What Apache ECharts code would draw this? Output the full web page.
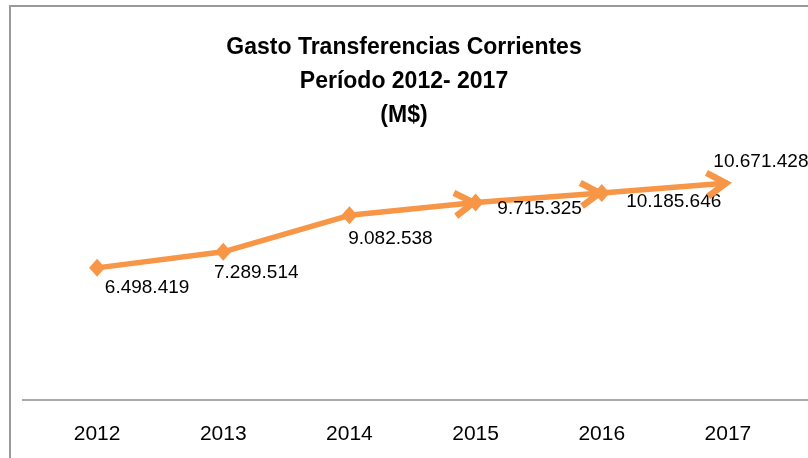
<!DOCTYPE html>
<html>
<head>
<meta charset="utf-8">
<script src="https://cdn.jsdelivr.net/npm/echarts@6/dist/echarts.min.js"></script>
<style>
html,body{margin:0;padding:0;background:#fff;}
#chart{width:808px;height:458px;}
</style>
</head>
<body>
<div id="chart"></div>
<script>
var categories = ['2012', '2013', '2014', '2015', '2016', '2017'];
var values = [6498419, 7289514, 9082538, 9715325, 10185646, 10671428];
var titleText = 'Gasto Transferencias Corrientes\nPeríodo 2012- 2017\n(M$)';

var labelOffsets = [[50, 20], [33, 21], [41, 23], [64, 6], [72, 9], [33, -21]];
var arrowFrom = 2; // segments ending at these category indices have arrowheads
var ORANGE = '#F79646';

function fmt(v) {
  return String(v).replace(/\B(?=(\d{3})+(?!\d))/g, '.');
}

var lastIndex = values.length - 1;
var lineData = values.map(function (v, i) {
  return {
    value: v,
    symbol: 'diamond',
    label: { offset: labelOffsets[i] }
  };
});

var arrowData = [];
for (var i = arrowFrom + 1; i < values.length; i++) {
  arrowData.push([i, values[i], values[i - 1]]);
}

var chart = echarts.init(document.getElementById('chart'), null, { renderer: 'canvas' });
chart.setOption({
  animation: false,
  backgroundColor: '#fff',
  title: {
    text: titleText,
    left: 'center',
    top: 26,
    textStyle: {
      fontFamily: 'Liberation Sans',
      fontWeight: 'bold',
      fontSize: 23,
      lineHeight: 34,
      color: '#000'
    }
  },
  graphic: [
    {
      type: 'polyline',
      shape: { points: [[10, 470], [10, 6], [820, 6]] },
      style: { stroke: '#9a9a9a', lineWidth: 2, fill: null },
      z: 100
    },
    {
      type: 'line',
      shape: { x1: 22, y1: 400, x2: 808, y2: 400 },
      style: { stroke: '#8c8c8c', lineWidth: 1.5 },
      z: 1
    }
  ],
  grid: { left: 34, right: 17, top: 156, bottom: 58, containLabel: false },
  xAxis: {
    type: 'category',
    data: categories,
    boundaryGap: true,
    axisLine: { show: false },
    axisTick: { show: false },
    axisLabel: {
      margin: 24,
      fontFamily: 'Liberation Sans',
      fontSize: 21,
      color: '#000'
    }
  },
  yAxis: {
    type: 'value',
    min: 0,
    max: 12000000,
    show: false,
    splitLine: { show: false }
  },
  series: [
    {
      type: 'line',
      data: lineData,
      symbolSize: function (val, params) {
        return params.dataIndex === lastIndex ? 1 : [16, 18];
      },
      itemStyle: { color: ORANGE },
      lineStyle: { color: ORANGE, width: 5.5 },
      z: 3,
      label: {
        show: true,
        position: 'inside',
        formatter: function (p) { return fmt(p.value); },
        fontFamily: 'Liberation Sans',
        fontSize: 19,
        color: '#000'
      }
    },
    {
      type: 'custom',
      data: arrowData,
      z: 4,
      renderItem: function (params, api) {
        var idx = api.value(0);
        var p1 = api.coord([idx, api.value(1)]);
        var p0 = api.coord([idx - 1, api.value(2)]);
        var ang = Math.atan2(p1[1] - p0[1], p1[0] - p0[0]);
        var L = 22, a = 0.56;
        var tip = [p1[0] - 2 * Math.cos(ang), p1[1] - 2 * Math.sin(ang)];
        var pts = [
          [tip[0] - L * Math.cos(ang - a), tip[1] - L * Math.sin(ang - a)],
          tip,
          [tip[0] - L * Math.cos(ang + a), tip[1] - L * Math.sin(ang + a)]
        ];
        return {
          type: 'polyline',
          shape: { points: pts },
          style: { stroke: ORANGE, lineWidth: 6.5, fill: null, lineJoin: 'miter', lineCap: 'butt' }
        };
      }
    }
  ]
});
</script>
</body>
</html>
